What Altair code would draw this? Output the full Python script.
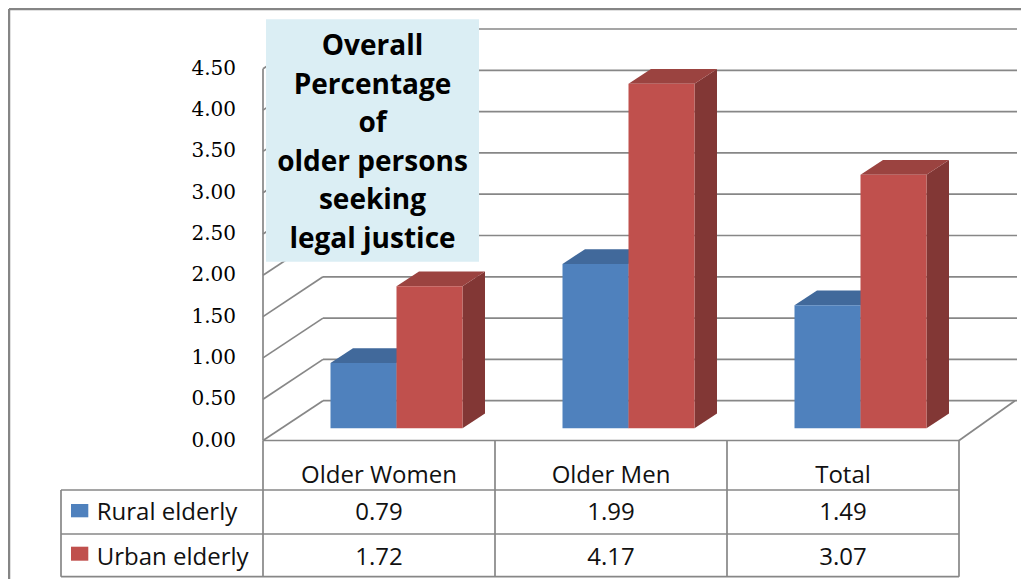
import altair as alt
import pandas as pd

# ---------------- data ----------------
categories = ["Older Women", "Older Men", "Total"]
series = ["Rural elderly", "Urban elderly"]
rural = [0.79, 1.99, 1.49]
urban = [1.72, 4.17, 3.07]
ticks = [0.0, 0.5, 1.0, 1.5, 2.0, 2.5, 3.0, 3.5, 4.0, 4.5]
title_lines = ["Overall", "Percentage", "of", "older persons", "seeking", "legal justice"]

# ---------------- layout (page pixels -> data units) ----------------
W, H = 1013, 571
OFF = 8
X0, CW = 263.0, 232.0      # left edge of first category, category width (px)
Y0, PPU = 440.5, 82.6      # baseline of value axis, px per unit


def ux(p):
    return (p - X0) / CW


def uy(p):
    return (Y0 - p) / PPU


XS = alt.Scale(domain=[ux(OFF), ux(OFF + W)], nice=False, zero=False)
YS = alt.Scale(domain=[uy(OFF + H), uy(OFF)], nice=False, zero=False)


def X(f):
    return alt.X(f, type="quantitative", scale=XS, axis=None)


def Y(f):
    return alt.Y(f, type="quantitative", scale=YS, axis=None)


GRID = "#878787"
TXT = "#111111"

# wall / floor geometry
WDX = ux(323)
WDY = (Y0 - 400.7) / PPU
BACK_R = ux(1017)
FLOOR_BR = ux(1015)
NCAT = len(categories)

# bar geometry
DXF = 17.5 / CW
DYF = 12.2 / PPU
BW = 66.0 / CW
DXB = 22.5 / CW
DYB = 14.8 / PPU

front_cols = {"Rural elderly": "#4F81BD", "Urban elderly": "#C0504D"}
top_cols = {"Rural elderly": "#41699B", "Urban elderly": "#9B4340"}
side_cols = {"Rural elderly": "#395E8C", "Urban elderly": "#823735"}
values = {"Rural elderly": rural, "Urban elderly": urban}

layers = []

# outer border
border = pd.DataFrame({"x": [ux(9)], "x2": [ux(1100)], "y": [uy(9)], "y2": [uy(700)]})
layers.append(alt.Chart(border).mark_rule(color="#858585", strokeWidth=2.5).encode(
    x=X("x"), x2="x2", y=Y("y")))
layers.append(alt.Chart(border).mark_rule(color="#858585", strokeWidth=2.5).encode(
    x=X("x"), y=Y("y"), y2="y2"))

# back wall gridlines
bg = pd.DataFrame({"t": ticks})
bg["y"] = bg["t"] + WDY
bg["xa"] = WDX
bg["xb"] = BACK_R
layers.append(alt.Chart(bg).mark_rule(color=GRID, strokeWidth=1.7).encode(
    x=X("xa"), x2="xb", y=Y("y")))

# left wall diagonals
lw = pd.DataFrame({"t": ticks})
lw["xa"] = 0.0
lw["xb"] = WDX
lw["y2"] = lw["t"] + WDY
layers.append(alt.Chart(lw).mark_rule(color=GRID, strokeWidth=1.7).encode(
    x=X("xa"), x2="xb", y=Y("t"), y2="y2"))

# front vertical axis line
fa = pd.DataFrame({"x": [0.0], "y": [0.0], "y2": [max(ticks)]})
layers.append(alt.Chart(fa).mark_rule(color=GRID, strokeWidth=1.7).encode(
    x=X("x"), y=Y("y"), y2="y2"))

# floor right diagonal
fr = pd.DataFrame({"x": [float(NCAT)], "x2": [FLOOR_BR], "y": [0.0], "y2": [WDY]})
layers.append(alt.Chart(fr).mark_rule(color=GRID, strokeWidth=1.7).encode(
    x=X("x"), x2="x2", y=Y("y"), y2="y2"))

# title box
tb = pd.DataFrame({"x": [ux(266)], "x2": [ux(479)], "y": [uy(19.3)], "y2": [uy(261.7)]})
layers.append(alt.Chart(tb).mark_rect(fill="#DBEEF4").encode(
    x=X("x"), x2="x2", y=Y("y"), y2="y2"))
tl = pd.DataFrame({"line": title_lines})
tl["x"] = ux(372.5)
tl["y"] = [uy(55 + 38.6 * k) for k in range(len(title_lines))]
layers.append(alt.Chart(tl).mark_text(font="Open Sans", fontWeight="bold", fontSize=28,
                                      align="center", baseline="alphabetic", color="#000000").encode(
    x=X("x"), y=Y("y"), text="line:N"))

# bars
bars = []
for j, s in enumerate(series):
    for i, c in enumerate(categories):
        xl = i + 0.5 + DXF - BW + j * BW
        bars.append({"series": s, "cat": c, "id": f"{j}-{i}", "v": values[s][i],
                     "xl": xl, "xr": xl + BW})
bars = pd.DataFrame(bars)

# side faces
side_rows = []
for _, r in bars.iterrows():
    side_rows.append({"series": r.series, "id": r.id, "x": r.xr, "lo": DYF, "hi": r.v + DYF})
    side_rows.append({"series": r.series, "id": r.id, "x": r.xr + DXB,
                      "lo": DYF + DYB, "hi": r.v + DYF + DYB})
side = pd.DataFrame(side_rows)
for s in series:
    layers.append(alt.Chart(side[side.series == s]).mark_area(
        color=side_cols[s], orient="vertical", interpolate="linear").encode(
        x=X("x"), y=Y("hi"), y2="lo", detail="id:N"))

# top faces
top_rows = []
for _, r in bars.iterrows():
    top_rows.append({"series": r.series, "id": r.id, "y": r.v + DYF, "a": r.xl, "b": r.xr})
    top_rows.append({"series": r.series, "id": r.id, "y": r.v + DYF + DYB,
                     "a": r.xl + DXB, "b": r.xr + DXB})
top = pd.DataFrame(top_rows)
for s in series:
    layers.append(alt.Chart(top[top.series == s]).mark_area(
        color=top_cols[s], orient="horizontal", interpolate="linear").encode(
        y=Y("y"), x=X("a"), x2="b", detail="id:N"))

# front faces
bars["yb"] = DYF
bars["yt"] = bars["v"] + DYF
for s in series:
    layers.append(alt.Chart(bars[bars.series == s]).mark_rect(color=front_cols[s]).encode(
        x=X("xl"), x2="xr", y=Y("yb"), y2="yt"))

# y axis labels
al = pd.DataFrame({"t": ticks})
al["x"] = ux(236)
layers.append(alt.Chart(al).mark_text(font="DejaVu Serif", fontSize=20, align="right",
                                      baseline="middle", color="#000000").encode(
    x=X("x"), y=Y("t"), text=alt.Text("t:Q", format=".2f")))

# ---------------- data table ----------------
T_LEFT = ux(61)
ROW1 = uy(490)
ROW2 = uy(534)
T_BOT = uy(576.7)

hl = pd.DataFrame({"y": [0.0, ROW1, ROW2, T_BOT],
                   "xa": [0.0, T_LEFT, T_LEFT, T_LEFT],
                   "xb": [float(NCAT)] * 4})
layers.append(alt.Chart(hl).mark_rule(color=GRID, strokeWidth=1.7).encode(
    x=X("xa"), x2="xb", y=Y("y")))
vl = pd.DataFrame({"x": [float(k) for k in range(NCAT + 1)] + [T_LEFT],
                   "ya": [0.0] * (NCAT + 1) + [ROW1],
                   "yb": [T_BOT] * (NCAT + 2)})
layers.append(alt.Chart(vl).mark_rule(color=GRID, strokeWidth=1.7).encode(
    x=X("x"), y=Y("ya"), y2="yb"))

hd = pd.DataFrame({"cat": categories})
hd["x"] = [i + 0.5 for i in range(NCAT)]
hd["y"] = uy(483.3)
layers.append(alt.Chart(hd).mark_text(font="Open Sans", fontSize=24, align="center",
                                      baseline="alphabetic", color=TXT).encode(
    x=X("x"), y=Y("y"), text="cat:N"))

row_base = {"Rural elderly": uy(520), "Urban elderly": uy(565)}
key_box = {"Rural elderly": (uy(504), uy(517.3)), "Urban elderly": (uy(546.7), uy(560.7))}

cells = []
for s in series:
    for i, c in enumerate(categories):
        cells.append({"series": s, "v": values[s][i], "x": i + 0.5, "y": row_base[s]})
cells = pd.DataFrame(cells)
layers.append(alt.Chart(cells).mark_text(font="Open Sans", fontSize=24, align="center",
                                         baseline="alphabetic", color=TXT).encode(
    x=X("x"), y=Y("y"), text=alt.Text("v:Q", format=".2f")))

rl = pd.DataFrame({"series": series})
rl["x"] = ux(96.7)
rl["y"] = [row_base[s] for s in series]
layers.append(alt.Chart(rl).mark_text(font="Open Sans", fontSize=24, align="left",
                                      baseline="alphabetic", color=TXT).encode(
    x=X("x"), y=Y("y"), text="series:N"))

for s in series:
    kb = pd.DataFrame({"x": [ux(71)], "x2": [ux(88.3)],
                       "y": [key_box[s][0]], "y2": [key_box[s][1]]})
    layers.append(alt.Chart(kb).mark_rect(color=front_cols[s]).encode(
        x=X("x"), x2="x2", y=Y("y"), y2="y2"))

chart = alt.layer(*layers).properties(
    width=W, height=H, padding=0,
    autosize=alt.AutoSizeParams(type="none"),
    background="white",
).configure_view(stroke=None)

chart.save("out.html", embed_options={"renderer": "svg", "actions": False})
